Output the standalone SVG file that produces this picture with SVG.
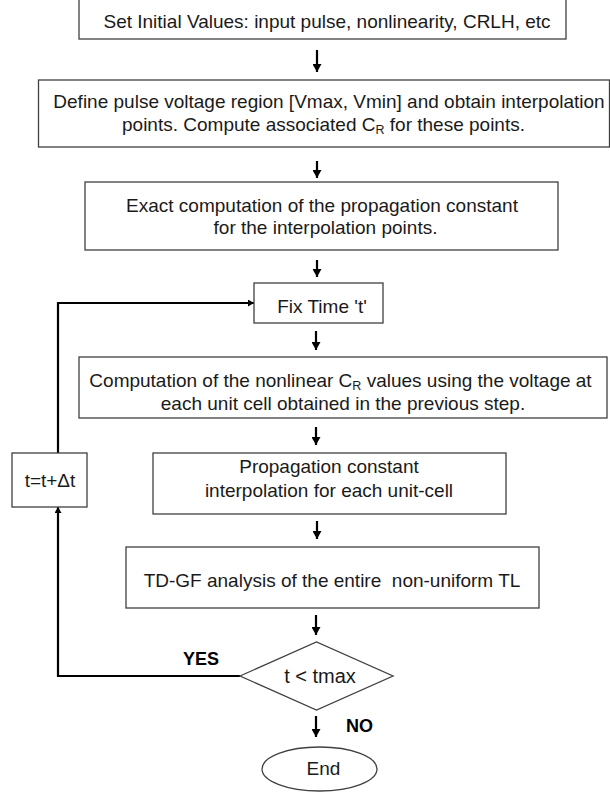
<svg xmlns="http://www.w3.org/2000/svg" width="610" height="793" viewBox="0 0 610 793">
<defs>
<marker id="ah" markerUnits="userSpaceOnUse" markerWidth="9" markerHeight="9" refX="8" refY="4.5" orient="auto">
<path d="M0,0 L8,4.5 L0,9 Z" fill="#000"/>
</marker>
<marker id="ahs" markerUnits="userSpaceOnUse" markerWidth="7" markerHeight="7" refX="6" refY="3.5" orient="auto">
<path d="M0,0 L6,3.5 L0,7 Z" fill="#000"/>
</marker>
</defs>
<style>
.box{fill:#fff;stroke:#404040;stroke-width:1.3}
.t{font-family:"Liberation Sans",Arial,sans-serif;font-size:19px;fill:#1a1a1a;text-anchor:middle}
.b{font-family:"Liberation Sans",Arial,sans-serif;font-size:19px;font-weight:bold;fill:#000;text-anchor:middle}
.sub{font-size:12.5px}
.arr{stroke:#000;stroke-width:2.2;fill:none;marker-end:url(#ah)}
.loop{stroke:#000;stroke-width:2.2;fill:none;marker-end:url(#ahs)}
</style>
<rect width="610" height="793" fill="#fff"/>
<g id="connectors">
<line class="arr" x1="317" y1="50" x2="317" y2="72"/>
<line class="arr" x1="317" y1="161" x2="317" y2="178"/>
<line class="arr" x1="317" y1="260" x2="317" y2="277"/>
<line class="arr" x1="316" y1="331" x2="316" y2="350"/>
<line class="arr" x1="316" y1="427" x2="316" y2="445"/>
<line class="arr" x1="317" y1="521" x2="317" y2="539"/>
<line class="arr" x1="316" y1="615" x2="316" y2="635"/>
<line class="arr" x1="316" y1="716" x2="316" y2="737"/>
<path class="loop" d="M240,676 L58,676 L58,507"/>
<path class="loop" d="M58,453 L58,303 L254,303"/>
</g>
<g id="n1">
<rect class="box" x="79" y="-2" width="487" height="41"/>
<text class="t" x="327" y="28">Set Initial Values: input pulse, nonlinearity, CRLH, etc</text>
</g>
<g id="n2">
<rect class="box" x="38.5" y="80" width="571" height="67"/>
<text class="t" x="329" y="108">Define pulse voltage region [Vmax, Vmin] and obtain interpolation</text>
<text class="t" x="323.5" y="131">points. Compute associated C<tspan class="sub" dy="3">R</tspan><tspan dy="-3"> for these points.</tspan></text>
</g>
<g id="n3">
<rect class="box" x="85" y="182" width="473" height="68"/>
<text class="t" x="322" y="212">Exact computation of the propagation constant</text>
<text class="t" x="325.5" y="234">for the interpolation points.</text>
</g>
<g id="n4">
<rect class="box" x="254" y="283" width="129" height="40"/>
<text class="t" x="322" y="313">Fix Time 't'</text>
</g>
<g id="n5">
<rect class="box" x="79" y="357" width="528" height="61"/>
<text class="t" x="340.5" y="387">Computation of the nonlinear C<tspan class="sub" dy="3">R</tspan><tspan dy="-3"> values using the voltage at</tspan></text>
<text class="t" x="343" y="410">each unit cell obtained in the previous step.</text>
</g>
<g id="n6">
<rect class="box" x="153" y="453" width="353" height="61"/>
<text class="t" x="329" y="473">Propagation constant</text>
<text class="t" x="329" y="497">interpolation for each unit-cell</text>
</g>
<g id="n7">
<rect class="box" x="126" y="547" width="413" height="61"/>
<text class="t" x="332" y="587" style="white-space:pre">TD-GF analysis of the entire  non-uniform TL</text>
</g>
<g id="n8">
<rect class="box" x="12" y="453" width="75" height="54"/>
<text class="t" x="50" y="487">t=t+Δt</text>
</g>
<g id="n9">
<polygon class="box" points="240,676 316.5,642 393,676 316.5,710"/>
<text class="t" x="320" y="683" style="font-size:20px">t &lt; tmax</text>
</g>
<g id="n10">
<ellipse class="box" cx="319.5" cy="769" rx="57.5" ry="22"/>
<text class="t" x="323.5" y="775">End</text>
</g>
<g id="labels">
<text class="b" x="201" y="665" style="font-size:18px">YES</text>
<text class="b" x="359.5" y="732" style="font-size:18px">NO</text>
</g>
</svg>
